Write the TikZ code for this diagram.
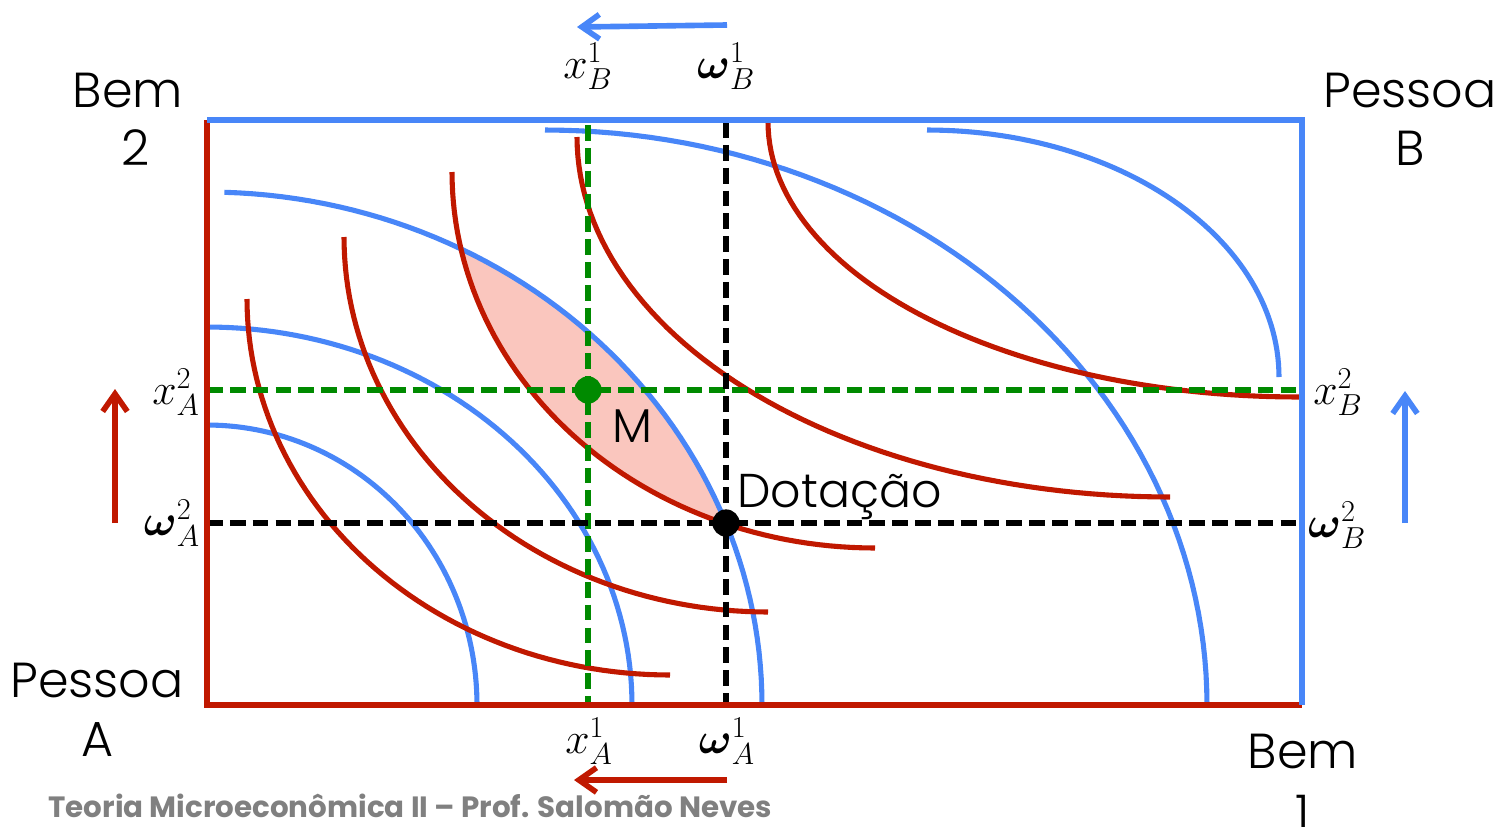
\documentclass[tikz,border=0pt]{standalone}
\usepackage{fontspec}
\setmainfont{Poppins}
\newfontfamily\lightfont{Poppins}[UprightFont=* Light]
\usepackage{amsmath}
\usetikzlibrary{arrows.meta}
\definecolor{myred}{RGB}{192,24,0}
\definecolor{myblue}{RGB}{72,134,248}
\definecolor{mygreen}{RGB}{0,138,0}
\definecolor{mypink}{RGB}{250,198,190}
\definecolor{mygrey}{RGB}{128,128,128}
\begin{document}
\begin{tikzpicture}[x=0.02cm,y=-0.02cm,
  redc/.style={line width=2.9pt,myred},
  bluec/.style={line width=2.9pt,myblue},
  edge/.style={line width=3.2pt},
  dashln/.style={line width=3.2pt,dash pattern=on 9pt off 4pt},
  arr/.style={line width=3.2pt,-{Straight Barb[length=10pt,width=14pt]}},
  bigtxt/.style={font=\lightfont\fontsize{28}{30}\selectfont,inner sep=0pt,anchor=base},
  midtxt/.style={font=\lightfont\fontsize{27}{30}\selectfont,inner sep=0pt},
  mathlbl/.style={font=\fontsize{25}{28}\selectfont,inner sep=0pt,anchor=base},
  dot/.style={circle,inner sep=0pt,minimum size=15.5pt}]
\useasboundingbox (0,0) rectangle (1500,826);

% box corners
\coordinate (TL) at (207,120);
\coordinate (BL) at (207,705);
\coordinate (BR) at (1302,705);
\coordinate (TR) at (1302,120);

% shaded region M (between blue curve 3 and red curve 3)
\fill[mypink] plot[domain=62.76:20.75,samples=40,variable=\t] ({207+555*cos(\t)},{705-513*sin(\t)})
  -- plot[domain=69.38:11.85,samples=40,variable=\t] ({875-423*cos(\t)},{172+376*sin(\t)}) -- cycle;

% blue curves (quarter ellipses)
\draw[bluec] plot[domain=90:0,samples=60,variable=\t] ({207+270*cos(\t)},{705-280*sin(\t)});
\draw[bluec] plot[domain=90:0,samples=60,variable=\t] ({207+425*cos(\t)},{705-378*sin(\t)});
\draw[bluec] plot[domain=88.2:0,samples=60,variable=\t] ({207+555*cos(\t)},{705-513*sin(\t)});
\draw[bluec] plot[domain=90:0,samples=60,variable=\t] ({545+662*cos(\t)},{705-575*sin(\t)});
\draw[bluec] plot[domain=90:0,samples=60,variable=\t] ({927+352*cos(\t)},{377-247*sin(\t)});

% red curves (quarter ellipses)
\draw[redc] plot[domain=0:90,samples=60,variable=\t] ({670-423*cos(\t)},{299+376*sin(\t)});
\draw[redc] plot[domain=0:90,samples=60,variable=\t] ({768-424*cos(\t)},{237+375*sin(\t)});
\draw[redc] plot[domain=0:90,samples=60,variable=\t] ({875-423*cos(\t)},{172+376*sin(\t)});
\draw[redc] plot[domain=0:90,samples=60,variable=\t] ({1170-593*cos(\t)},{137+360*sin(\t)});
\draw[redc] plot[domain=0:90,samples=60,variable=\t] ({1299-531*cos(\t)},{122+275*sin(\t)});

% dashed guide lines
\coordinate (gT) at (588,125);
\coordinate (gB) at (588,705);
\coordinate (gL) at (207,390);
\coordinate (gR) at (1302,390);
\coordinate (kT) at (726,122);
\coordinate (kB) at (726,705);
\coordinate (kL) at (207,523);
\coordinate (kR) at (1302,523);
\draw[dashln,mygreen] (gT) -- (gB);
\draw[dashln,mygreen] (gL) -- (gR);
\draw[dashln,black] (kT) -- (kB);
\draw[dashln,black] (kL) -- (kR);

% box
\draw[edge,myred] (TL) -- (BL) -- (BR);
\draw[edge,myblue] (TL) -- (TR) -- (BR);

% points
\node[dot,fill=mygreen] (Mpt) at (588,390) {};
\node[dot,fill=black] (Dpt) at (726,523) {};
\node[midtxt,anchor=base] (Mlbl) at (632,442) {M};
\node[midtxt,anchor=base west] (Dlbl) at (737,507) {Dotação};

% corner labels
\node[bigtxt] (bem2a) at (128,107) {Bem};
\node[bigtxt] (bem2b) at (136,165) {2};
\node[bigtxt] (pBa) at (1410,107) {Pessoa};
\node[bigtxt] (pBb) at (1410,165) {B};
\node[bigtxt] (pAa) at (97,697) {Pessoa};
\node[bigtxt] (pAb) at (98,756) {A};
\node[bigtxt] (bem1a) at (1303,768) {Bem};
\node[bigtxt] (bem1b) at (1303,830) {1};

% math labels
\node[mathlbl] (xB1) at (588,78) {$x_B^1$};
\node[mathlbl] (wB1) at (726,78) {$\boldsymbol{\omega}_B^1$};
\node[mathlbl] (xA2) at (176,404) {$x_A^2$};
\node[mathlbl] (wA2) at (172,535) {$\boldsymbol{\omega}_A^2$};
\node[mathlbl] (xB2) at (1338,404) {$x_B^2$};
\node[mathlbl] (wB2) at (1337,537) {$\boldsymbol{\omega}_B^2$};
\node[mathlbl] (xA1) at (589,753) {$x_A^1$};
\node[mathlbl] (wA1) at (727,753) {$\boldsymbol{\omega}_A^1$};

% direction arrows
\coordinate (a1s) at (727,25);  \coordinate (a1e) at (577,27);
\coordinate (a2s) at (727,780); \coordinate (a2e) at (574,780);
\coordinate (a3s) at (115,523); \coordinate (a3e) at (115,389);
\coordinate (a4s) at (1405,523); \coordinate (a4e) at (1405,391);
\draw[arr,myblue] (a1s) -- (a1e);
\draw[arr,myred] (a2s) -- (a2e);
\draw[arr,myred] (a3s) -- (a3e);
\draw[arr,myblue] (a4s) -- (a4e);

% footer
\node[inner sep=0pt,anchor=base west,text=mygrey,font=\fontsize{16.7}{20}\selectfont\bfseries] (foot) at (48,817) {Teoria Microeconômica II – Prof. Salomão Neves};
\end{tikzpicture}
\end{document}
